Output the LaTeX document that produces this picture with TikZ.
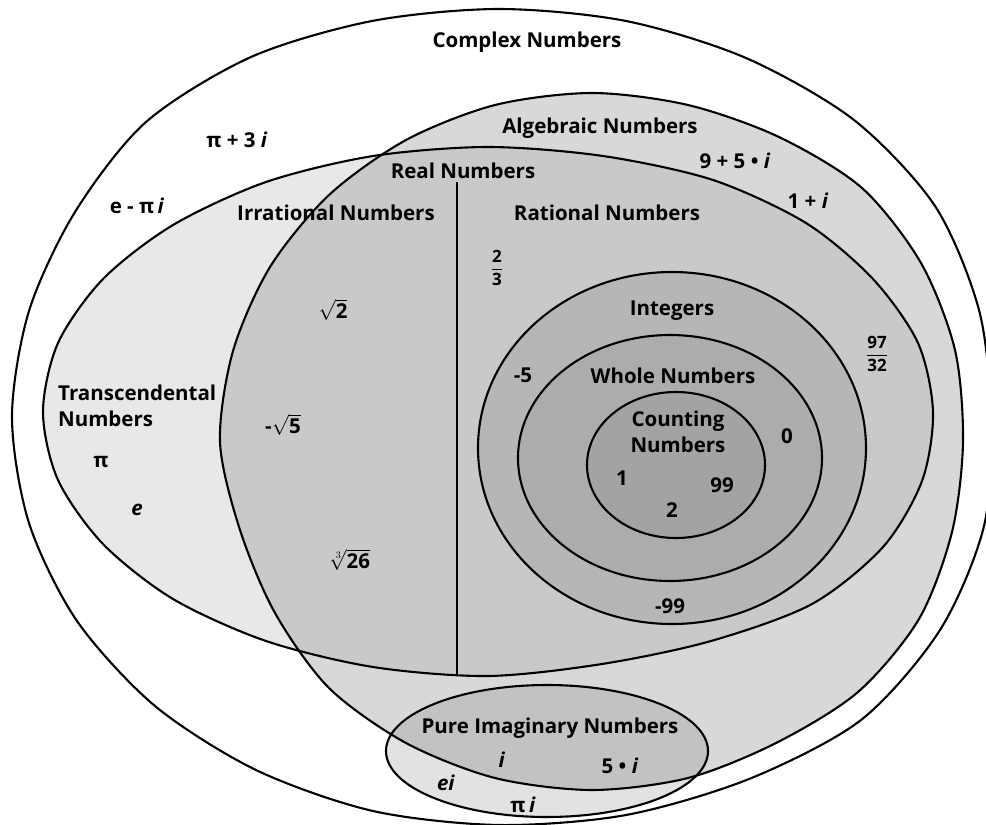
\documentclass[tikz,border=0pt]{standalone}
\usepackage{amsmath}
\usepackage{fontspec}
\setmainfont{Open Sans}
\usetikzlibrary{positioning}
\definecolor{TransGray}{RGB}{232,232,232}
\definecolor{AlgGray}{RGB}{216,216,216}
\definecolor{RealAlgGray}{RGB}{201,201,201}
\definecolor{IntGray}{RGB}{182,182,182}
\definecolor{WholeGray}{RGB}{172,172,172}
\definecolor{CountGray}{RGB}{163,163,163}
\definecolor{PimGray}{RGB}{226,226,226}
\definecolor{PimAlgGray}{RGB}{194,194,194}

\newcommand{\cplxpath}{plot[smooth cycle] coordinates {(991,417) (984,526) (940,630) (861,720) (749,779) (626,815) (499,825) (373,811) (256,770) (155,706) (77,621) (29,523) (12,417) (29,311) (75,212) (146,122) (251,57) (372,21) (499,9) (626,21) (746,58) (854,120) (935,206) (979,310)}}
\newcommand{\algpath}{plot[smooth cycle] coordinates {(963,442) (952,532) (919,619) (858,692) (776,743) (688,778) (592,790) (495,778) (406,743) (329,688) (275,613) (240,530) (220,442) (233,351) (270,267) (329,195) (406,140) (495,105) (592,93) (688,105) (779,137) (862,188) (921,263) (955,350)}}
\newcommand{\realpath}{plot[smooth cycle] coordinates {(933,412) (922,481) (883,547) (812,604) (711,641) (602,664) (488,676) (373,667) (266,641) (173,599) (103,544) (58,480) (43,412) (58,343) (103,279) (173,225) (266,182) (373,156) (488,147) (603,156) (713,180) (806,223) (873,279) (918,343)}}
\newcommand{\pimpath}{(547,751) ellipse [x radius=161, y radius=66]}

\begin{document}
\begin{tikzpicture}[x=1pt, y=-1pt,
  every node/.style={font=\fontsize{20.5}{26}\selectfont\bfseries, align=center, inner sep=0pt},
  setline/.style={draw=black, line width=2.1pt},
  lbl/.style={anchor=base}]
  \useasboundingbox (0,0) rectangle (986,825);
  \fill[white] (0,0) rectangle (986,825);
  \fill[TransGray] \realpath;
  \fill[AlgGray] \algpath;
  \begin{scope}
    \clip \algpath;
    \fill[RealAlgGray] \realpath;
  \end{scope}
  \fill[PimGray] \pimpath;
  \begin{scope}
    \clip \algpath;
    \fill[PimAlgGray] \pimpath;
  \end{scope}
  \draw[setline] \cplxpath;
  \draw[setline] \realpath;
  \draw[setline] \algpath;
  \draw[setline] \pimpath;
  \coordinate (vtop) at (457,182);
  \coordinate (vbot) at (457,676);
  \draw[line width=1.6pt] (vtop) -- (vbot);
  \path[setline, fill=IntGray] (672,448) ellipse [x radius=194, y radius=176];
  \path[setline, fill=WholeGray] (670,458) ellipse [x radius=152, y radius=123];
  \path[setline, fill=CountGray] (676,465) ellipse [x radius=89, y radius=73];

  \node[lbl] (cplx) at (527,47) {Complex Numbers};
  \node[lbl] (pi3i) at (237,147) {π + 3 \textit{i}};
  \node[lbl] (epii) at (137,213) {e - π\,\textit{i}};
  \node[lbl] (alg) at (600,133) {Algebraic Numbers};
  \node[lbl] (real) at (463,178) {Real Numbers};
  \node[lbl] (n95i) at (735,168) {9 + 5 • \textit{i}};
  \node[lbl] (n1i) at (808,208) {1 + \textit{i}};
  \node[lbl] (irr) at (336,220) {Irrational Numbers};
  \node[lbl] (rat) at (607,220) {Rational Numbers};
  \node[anchor=west, align=left] (trans) at (58,406) {Transcendental\\Numbers};
  \node[lbl] (tpi) at (101,467) {π};
  \node[lbl] (te) at (137,515) {\textit{e}};
  \node (sq2) at (333,310) {$\sqrt{\text{2}}$};
  \node (sq5) at (283,425) {-$\sqrt{\text{5}}$};
  \node (cb26) at (350,560) {$\sqrt[3]{\text{26}}$};
  \node[font=\fontsize{17}{20}\selectfont\bfseries] (twothirds) at (497,268) {$\displaystyle\frac{\text{2}}{\text{3}}$};
  \node[font=\fontsize{17}{20}\selectfont\bfseries] (frac9732) at (877,354) {$\displaystyle\frac{\text{97}}{\text{32}}$};
  \node[lbl] (int) at (672,315) {Integers};
  \node[lbl] (m5) at (523,382) {-5};
  \node[lbl] (whole) at (673,383) {Whole Numbers};
  \node (count) at (678,432) {Counting\\Numbers};
  \node[lbl] (zero) at (787,443) {0};
  \node[lbl] (one) at (622,485) {1};
  \node[lbl] (n99) at (722,492) {99};
  \node[lbl] (two) at (672,517) {2};
  \node[lbl] (m99) at (670,613) {-99};
  \node[lbl] (pim) at (550,733) {Pure Imaginary Numbers};
  \node[lbl] (ii) at (502,767) {\textit{i}};
  \node[lbl] (n5i) at (620,773) {5 • \textit{i}};
  \node[lbl] (ei) at (446,790) {\textit{ei}};
  \node[lbl] (pii) at (523,812) {π\,\textit{i}};
\end{tikzpicture}
\end{document}
